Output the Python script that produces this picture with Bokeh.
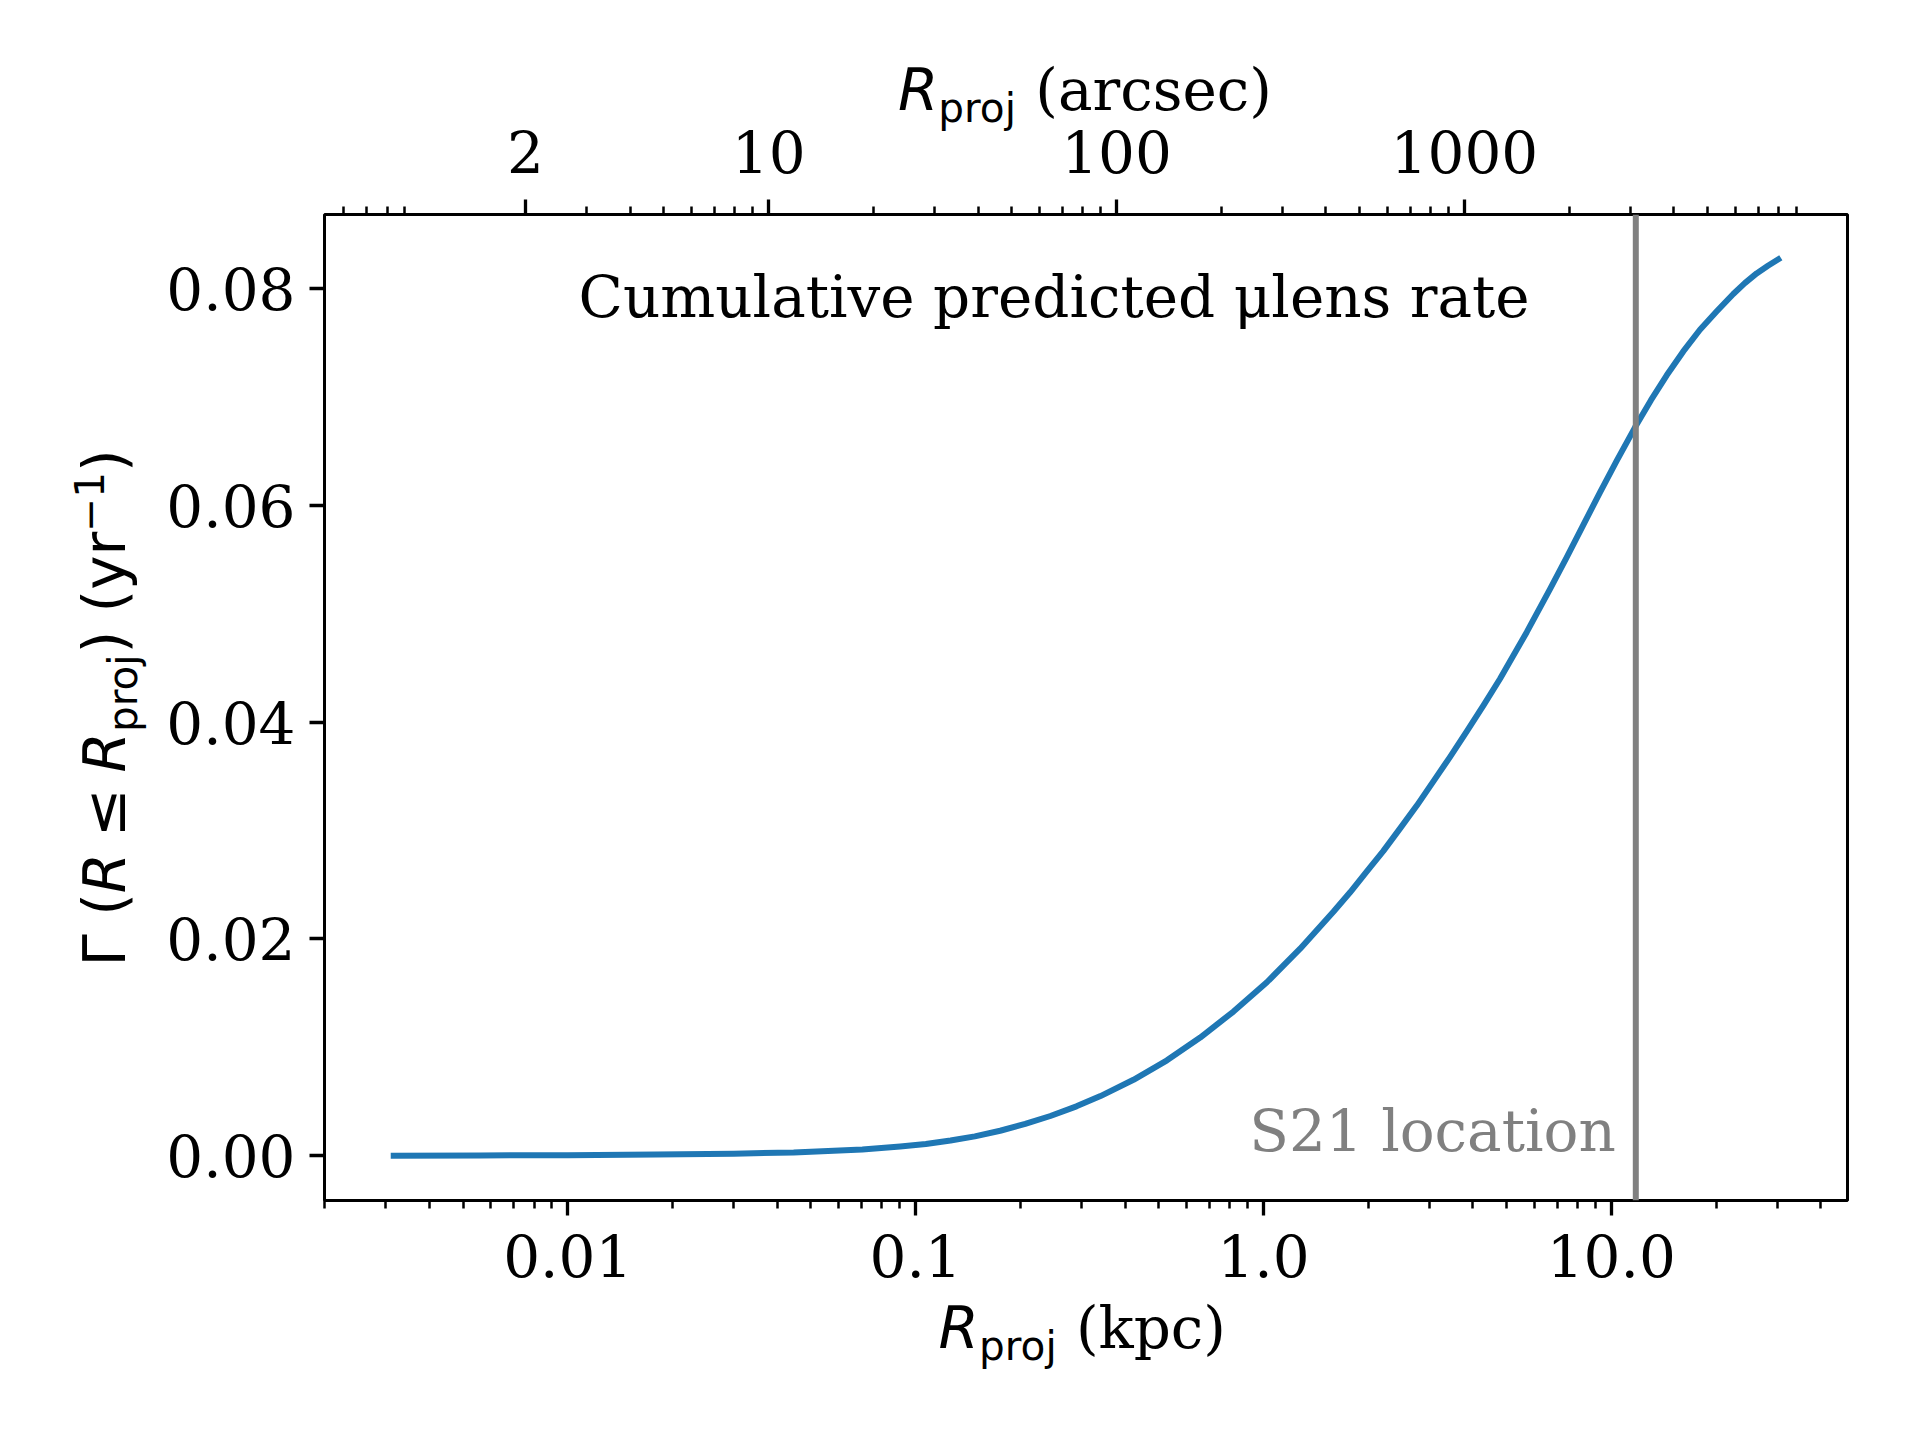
import math
from bokeh.plotting import figure
from bokeh.models import (Range1d, LogScale, LogAxis, FixedTicker, Span, Label,
                          PrintfTickFormatter, CustomJSTickFormatter)
from bokeh.embed import file_html
from bokeh.resources import INLINE

# ---------------- data ----------------
r_kpc = [0.00316, 0.0056, 0.01, 0.0179, 0.03, 0.0446, 0.0703, 0.0903, 0.107, 0.126,
         0.148, 0.175, 0.2066, 0.244, 0.29, 0.34, 0.423, 0.528, 0.658, 0.82,
         1.023, 1.275, 1.589, 1.775, 1.98, 2.21, 2.471, 2.76, 3.09, 3.44,
         3.85, 4.30, 4.788, 5.713, 6.67, 7.443, 8.31, 9.28, 10.36, 11.70,
         13.0, 14.43, 16.1, 17.98, 20.1, 22.42, 24.2, 26.17, 28.2, 30.2]
rate = [0.0, 0.00002, 0.00005, 0.0001, 0.00018, 0.0003, 0.00058, 0.00085, 0.00107, 0.0014,
        0.00178, 0.0023, 0.00293, 0.00366, 0.00455, 0.0055, 0.0070, 0.0088, 0.0109, 0.0133,
        0.0160, 0.0191, 0.0225, 0.0243, 0.0262, 0.0281, 0.0302, 0.0323, 0.0346, 0.0368,
        0.0392, 0.0416, 0.0440, 0.0483, 0.0523, 0.0552, 0.0582, 0.0612, 0.0641, 0.0672,
        0.0697, 0.0720, 0.0742, 0.0762, 0.0779, 0.0795, 0.0805, 0.0814, 0.0821, 0.0827]

s21_kpc = 11.76
distance_kpc = 780.0
arcsec_per_kpc = 206264.806 / distance_kpc

x_major = [0.01, 0.1, 1.0, 10.0]
x_major_labels = ["0.01", "0.1", "1.0", "10.0"]
top_major = [2, 10, 100, 1000]
top_major_labels = ["2", "10", "100", "1000"]
y_major = [0.0, 0.02, 0.04, 0.06, 0.08]

title_text = "Cumulative predicted \u03bclens rate"
s21_text = "S21 location"

# ---------------- ranges (matplotlib-like 5% margins) ----------------
lx0, lx1 = math.log10(min(r_kpc)), math.log10(max(r_kpc))
padx = 0.05 * (lx1 - lx0)
x_lo, x_hi = 10 ** (lx0 - padx), 10 ** (lx1 + padx)
y0, y1 = min(rate), max(rate)
pady = 0.05 * (y1 - y0)
y_lo, y_hi = y0 - pady, y1 + pady

def decade_minors(lo_exp, hi_exp):
    out = []
    for e in range(lo_exp, hi_exp + 1):
        for k in range(2, 10):
            out.append(k * 10.0 ** e)
    return out

x_minor = decade_minors(-3, 1)
top_minor = [0.6, 0.7, 0.8, 0.9] + [v for v in decade_minors(0, 3) if v > 2]

# ---------------- figure ----------------
FRAME_W, FRAME_H = 1523, 986
BL, BT = 324, 214
BR = 1896 - BL - FRAME_W
BB = 1424 - BT - FRAME_H

p = figure(x_axis_type="log", x_range=Range1d(x_lo, x_hi), y_range=Range1d(y_lo, y_hi),
           frame_width=FRAME_W, frame_height=FRAME_H,
           min_border_left=BL, min_border_top=BT, min_border_right=BR, min_border_bottom=BB,
           output_backend="svg", toolbar_location=None)
p.background_fill_color = "white"
p.border_fill_color = "white"
p.outline_line_color = "black"
p.outline_line_width = 3
p.xgrid.visible = False
p.ygrid.visible = False

fmt_code = """
const i = vals.findIndex(t => Math.abs(t - tick) <= 1e-9 * Math.abs(t));
return i >= 0 ? labs[i] : '';
"""

def style_axis(ax):
    ax.axis_line_color = None
    ax.major_tick_line_color = "black"
    ax.major_tick_line_width = 3.3
    ax.major_tick_out = 15
    ax.major_tick_in = 0
    ax.minor_tick_line_color = "black"
    ax.minor_tick_line_width = 2.5
    ax.minor_tick_out = 8
    ax.minor_tick_in = 0
    ax.major_label_text_font = "DejaVu Serif"
    ax.major_label_text_font_size = "58px"
    ax.major_label_text_color = "black"
    ax.axis_label = None

bx = p.xaxis[0]
style_axis(bx)
bx.ticker = FixedTicker(ticks=x_major, minor_ticks=x_minor)
bx.formatter = CustomJSTickFormatter(args=dict(vals=x_major, labs=x_major_labels), code=fmt_code)
bx.major_label_standoff = 18

ly = p.yaxis[0]
style_axis(ly)
ly.ticker = FixedTicker(ticks=y_major, minor_ticks=[])
ly.formatter = PrintfTickFormatter(format="%.2f")
ly.minor_tick_line_color = None
ly.major_label_standoff = 14

p.extra_x_ranges = {"arc": Range1d(x_lo * arcsec_per_kpc, x_hi * arcsec_per_kpc)}
p.extra_x_scales = {"arc": LogScale()}
top = LogAxis(x_range_name="arc")
style_axis(top)
top.ticker = FixedTicker(ticks=top_major, minor_ticks=top_minor)
top.formatter = CustomJSTickFormatter(args=dict(vals=top_major, labs=top_major_labels), code=fmt_code)
top.major_label_standoff = 27
p.add_layout(top, "above")

# ---------------- marks ----------------
p.line(r_kpc, rate, line_color="#1f77b4", line_width=6, line_cap="square", line_join="round")
p.add_layout(Span(location=s21_kpc, dimension="height", line_color="#808080", line_width=6))

BASE_FIX = 0.345   # baseline correction (fraction of font size)

p.add_layout(Label(x=s21_kpc, y=0.0, x_offset=-20, y_offset=5 + BASE_FIX * 58, text=s21_text,
                   text_font="DejaVu Serif", text_font_size="58px", text_color="#808080",
                   text_align="right", text_baseline="alphabetic"))

# ---------------- texts in canvas coordinates (side panel, so not clipped) ----------------
def put(X, Y, txt, size=58, font="DejaVu Serif", style="normal", angle=0.0):
    k = BASE_FIX * size
    if angle == 0.0:
        Y = Y - k
    else:
        X = X - k
    p.add_layout(Label(x=X, y=Y, x_units="canvas", y_units="canvas", text=txt,
                       text_font=font, text_font_size=f"{size}px", text_font_style=style,
                       text_align="left", text_baseline="alphabetic", angle=angle,
                       text_color="black"), "below")

put(578, 317, title_text)

# bottom axis label: R_proj (kpc)
put(938, 1348, "R", font="DejaVu Sans", style="italic")
put(978.5, 1360, "proj", size=40.6, font="DejaVu Sans")
put(1075.4, 1348, "(kpc)")

# top axis label: R_proj (arcsec)
put(897.5, 110, "R", font="DejaVu Sans", style="italic")
put(937.8, 122, "proj", size=40.6, font="DejaVu Sans")
put(1034.8, 110, "(arcsec)")

# left axis label: Gamma (R <= R_proj) (yr^-1), rotated
A = math.pi / 2
s0 = 966.0
put(125, s0, "\u0393 (", font="DejaVu Sans", angle=A)
put(125, s0 - 73.2, "R", font="DejaVu Sans", style="italic", angle=A)
put(125, s0 - 129.5, "\u2264", font="DejaVu Sans", angle=A)
put(125, s0 - 194.1, "R", font="DejaVu Sans", style="italic", angle=A)
put(137, s0 - 234.4, "proj", size=40.6, font="DejaVu Sans", angle=A)
put(125, s0 - 313.0, ") (yr", font="DejaVu Sans", angle=A)
put(103, s0 - 434.7, "\u22121", size=40.6, font="DejaVu Sans", angle=A)
put(125, s0 - 494.5, ")", font="DejaVu Sans", angle=A)

open("out.html", "w").write(file_html(p, INLINE))
